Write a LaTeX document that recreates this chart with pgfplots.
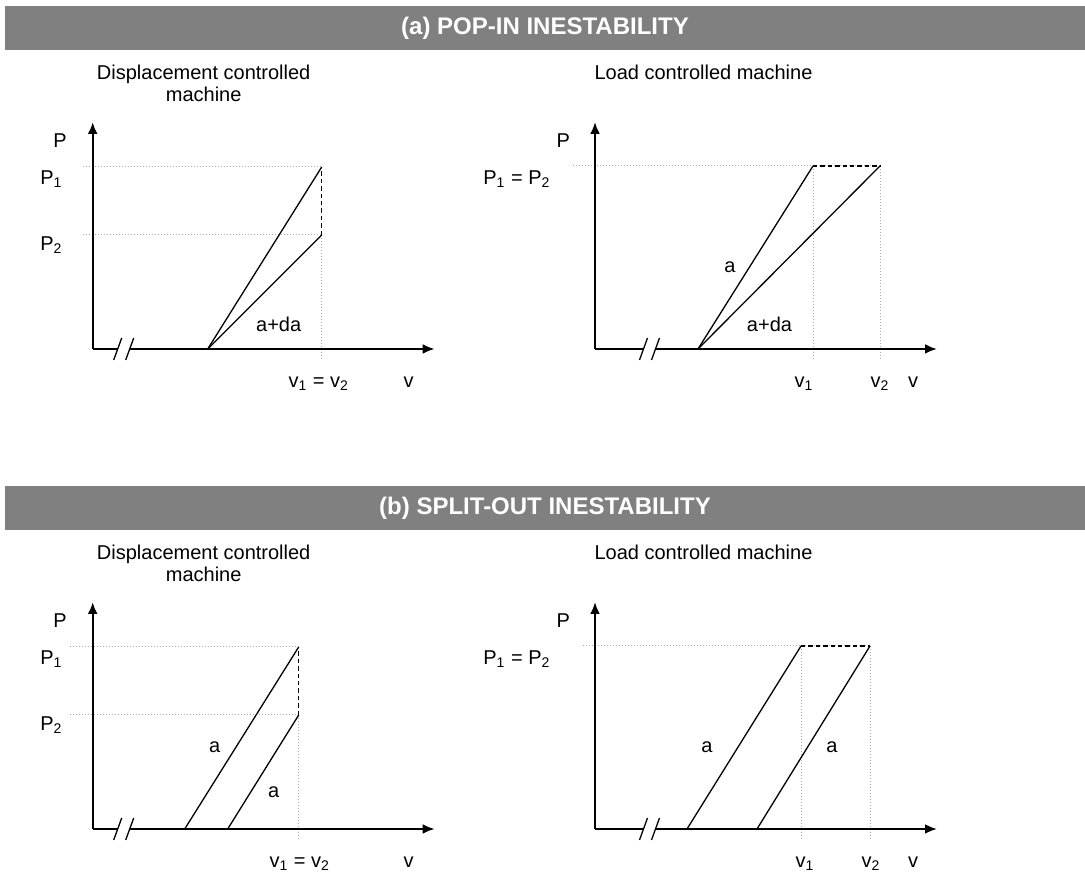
\documentclass[border=0pt]{standalone}
\usepackage{pgfplots}
\pgfplotsset{compat=1.18}
\usepackage{fontspec}
\setmainfont{Liberation Sans}
\usetikzlibrary{arrows.meta}
\definecolor{bargray}{RGB}{128,128,128}
\definecolor{dotgray}{RGB}{170,170,170}
\pgfplotsset{
  panel/.style={x=0.5pt,y=0.5pt,xmin=0,xmax=342,ymin=0,ymax=227,hide axis,clip=false,anchor=south west},
  axisline/.style={black, line width=1.2pt},
  arr/.style={-{Latex[length=6pt,width=5pt]}},
  curve/.style={black, line width=0.65pt},
  jump/.style={black, line width=0.65pt, dash pattern=on 2.2pt off 1.5pt},
  guide/.style={dotgray, line width=0.5pt, dash pattern=on 0.6pt off 0.9pt},
}
\begin{document}
\begin{tikzpicture}[font=\fontsize{10}{12}\selectfont]
\useasboundingbox (0,0) rectangle (542.5pt,438pt);
% title bars
\fill[bargray] (2.5pt,{(876-6)*0.5pt}) rectangle (542.5pt,{(876-50)*0.5pt});
\node[white,font=\fontsize{12}{14}\selectfont\bfseries] at (272.5pt,{(876-28)*0.5pt}) {(a) POP-IN INESTABILITY};
\fill[bargray] (2.5pt,{(876-486)*0.5pt}) rectangle (542.5pt,{(876-530)*0.5pt});
\node[white,font=\fontsize{12}{14}\selectfont\bfseries] at (272.5pt,{(876-508)*0.5pt}) {(b) SPLIT-OUT INESTABILITY};

% ---------- (a) left: displacement controlled ----------
\begin{axis}[panel, at={(46.35pt,263.5pt)}]
  \addplot[guide] coordinates {(-10,182) (229,182)};
  \addplot[guide] coordinates {(-10,114) (229,114)};
  \addplot[guide] coordinates {(229,114) (229,-11)};
  \addplot[axisline, arr] coordinates {(0,0) (0,227)};
  \addplot[axisline] coordinates {(0,0) (25,0)};
  \addplot[axisline, arr] coordinates {(37,0) (342,0)};
  \addplot[curve] coordinates {(21,-11) (29,11)};
  \addplot[curve] coordinates {(33,-11) (41,11)};
  \addplot[curve] coordinates {(115,0) (229,182)};
  \addplot[curve] coordinates {(115,0) (229,114)};
  \addplot[jump] coordinates {(229,114) (229,182)};
  \node[anchor=base] at (axis cs:111,269) {Displacement controlled};
  \node[anchor=base] at (axis cs:111,247) {machine};
  \node[anchor=base east] at (axis cs:-19,201) {P};
  \node[anchor=base west,inner sep=0pt] at (axis cs:-52.7,164) {P\textsubscript{1}};
  \node[anchor=base west,inner sep=0pt] at (axis cs:-52.7,98) {P\textsubscript{2}};
  \node[anchor=base] at (axis cs:226,-39) {v\textsubscript{1} = v\textsubscript{2}};
  \node[anchor=base] at (axis cs:316,-39) {v};
  \node[anchor=base] at (axis cs:186,17) {a+da};
\end{axis}

% ---------- (a) right: load controlled ----------
\begin{axis}[panel, at={(297.5pt,263.5pt)}]
  \addplot[guide] coordinates {(-22,183) (285,183)};
  \addplot[guide] coordinates {(218,183) (218,-11)};
  \addplot[guide] coordinates {(285,183) (285,-11)};
  \addplot[axisline, arr] coordinates {(0,0) (0,227)};
  \addplot[axisline] coordinates {(0,0) (48.5,0)};
  \addplot[axisline, arr] coordinates {(60.5,0) (342,0)};
  \addplot[curve] coordinates {(44.5,-11) (52.5,11)};
  \addplot[curve] coordinates {(56.5,-11) (64.5,11)};
  \addplot[curve] coordinates {(103,0) (218,183)};
  \addplot[curve] coordinates {(103,0) (285,183)};
  \addplot[jump] coordinates {(218,183) (285,183)};
  \node[anchor=base] at (axis cs:108.5,269) {Load controlled machine};
  \node[anchor=base east] at (axis cs:-18,201) {P};
  \node[anchor=base west,inner sep=0pt] at (axis cs:-112,164) {P\textsubscript{1} = P\textsubscript{2}};
  \node[anchor=base] at (axis cs:209,-39) {v\textsubscript{1}};
  \node[anchor=base] at (axis cs:285,-39) {v\textsubscript{2}};
  \node[anchor=base] at (axis cs:318,-39) {v};
  \node[anchor=base] at (axis cs:135,76) {a};
  \node[anchor=base] at (axis cs:174.5,17) {a+da};
\end{axis}

% ---------- (b) left: displacement controlled ----------
\begin{axis}[panel, at={(46.35pt,23.5pt)}]
  \addplot[guide] coordinates {(-23,182) (206,182)};
  \addplot[guide] coordinates {(-23,114) (206,114)};
  \addplot[guide] coordinates {(206,114) (206,-11)};
  \addplot[axisline, arr] coordinates {(0,0) (0,227)};
  \addplot[axisline] coordinates {(0,0) (25,0)};
  \addplot[axisline, arr] coordinates {(37,0) (342,0)};
  \addplot[curve] coordinates {(21,-11) (29,11)};
  \addplot[curve] coordinates {(33,-11) (41,11)};
  \addplot[curve] coordinates {(92,0) (206,182)};
  \addplot[curve] coordinates {(135,0) (206,114)};
  \addplot[jump] coordinates {(206,114) (206,182)};
  \node[anchor=base] at (axis cs:111,269) {Displacement controlled};
  \node[anchor=base] at (axis cs:111,247) {machine};
  \node[anchor=base east] at (axis cs:-19,201) {P};
  \node[anchor=base west,inner sep=0pt] at (axis cs:-52.7,164) {P\textsubscript{1}};
  \node[anchor=base west,inner sep=0pt] at (axis cs:-52.7,98) {P\textsubscript{2}};
  \node[anchor=base] at (axis cs:207,-39) {v\textsubscript{1} = v\textsubscript{2}};
  \node[anchor=base] at (axis cs:316,-39) {v};
  \node[anchor=base] at (axis cs:122,76) {a};
  \node[anchor=base] at (axis cs:181,31) {a};
\end{axis}

% ---------- (b) right: load controlled ----------
\begin{axis}[panel, at={(297.5pt,23.5pt)}]
  \addplot[guide] coordinates {(-12,183) (275,183)};
  \addplot[guide] coordinates {(206,183) (206,-11)};
  \addplot[guide] coordinates {(275,183) (275,-11)};
  \addplot[axisline, arr] coordinates {(0,0) (0,227)};
  \addplot[axisline] coordinates {(0,0) (48.5,0)};
  \addplot[axisline, arr] coordinates {(60.5,0) (342,0)};
  \addplot[curve] coordinates {(44.5,-11) (52.5,11)};
  \addplot[curve] coordinates {(56.5,-11) (64.5,11)};
  \addplot[curve] coordinates {(92,0) (206,183)};
  \addplot[curve] coordinates {(162,0) (275,183)};
  \addplot[jump] coordinates {(206,183) (275,183)};
  \node[anchor=base] at (axis cs:108.5,269) {Load controlled machine};
  \node[anchor=base east] at (axis cs:-18,201) {P};
  \node[anchor=base west,inner sep=0pt] at (axis cs:-112,164) {P\textsubscript{1} = P\textsubscript{2}};
  \node[anchor=base] at (axis cs:210,-39) {v\textsubscript{1}};
  \node[anchor=base] at (axis cs:276,-39) {v\textsubscript{2}};
  \node[anchor=base] at (axis cs:318,-39) {v};
  \node[anchor=base] at (axis cs:112,76) {a};
  \node[anchor=base] at (axis cs:237,76) {a};
\end{axis}
\end{tikzpicture}
\end{document}
